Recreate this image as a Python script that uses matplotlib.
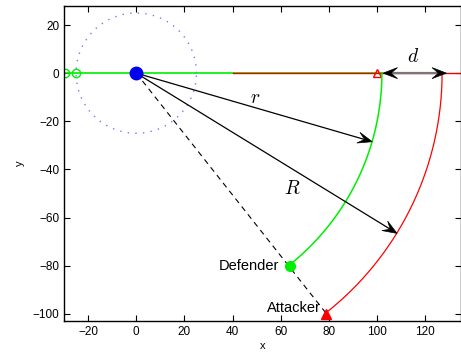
import numpy as np
import matplotlib.pyplot as plt
from matplotlib.patches import Polygon

plt.rcParams['font.family'] = ['Liberation Sans', 'DejaVu Sans']
plt.rcParams['mathtext.fontset'] = 'cm'

# positions of the two players
defender = [64, -80]
attacker = [79, -100]
# radii of the two arcs (reach of defender / attacker)
r_def = 102
R_att = 127
guard_radius = 25
# points on the arcs where the r and R arrows land
r_tip = [98, -28.5]
R_tip = [108.3, -66.6]
# d arrow end points along the x axis
d_ends = [102.5, 128.8]
# green / red path segments on the x axis
green_x = [-29.5, 102]
red_x = [40, 140]
green_marks = [-29.5, -25]
red_mark = 100


def arc(radius, p):
    a0 = np.arctan2(p[1], p[0])
    t = np.linspace(a0, 0, 200)
    return radius*np.cos(t), radius*np.sin(t)


def head(ax, tip, frm, L=6.0, W=2.3, notch=0.55):
    # concave arrow head, axes are equal scaled so data units work
    tip = np.array(tip, float)
    u = tip - np.array(frm, float)
    u = u/np.hypot(*u)
    n = np.array([-u[1], u[0]])
    back = tip - L*u
    pts = [tip, back + W*n, tip - notch*L*u, back - W*n]
    ax.add_patch(Polygon(pts, closed=True, fc='k', ec='k', lw=0.5, zorder=5))
    return tip - notch*L*u


def main():
    fig = plt.figure(figsize=(4.61, 3.53), dpi=100)
    ax = fig.add_axes([0.1388, 0.0907, 0.862, 0.893])

    # guard circle round the origin
    t = np.linspace(0, 2*np.pi, 300)
    ax.plot(guard_radius*np.cos(t), guard_radius*np.sin(t), color='#7777ff',
            linestyle=(0, (1, 4.5)), linewidth=1.0)

    ax.plot(green_x, [0, 0], color='#00ee00', linewidth=1.2)
    ax.plot(red_x, [0, 0], color='#ee0000', linewidth=1.0)
    ax.plot(green_marks, [0, 0], 'o', mfc='none', mec='#00ee00', ms=6)
    ax.plot([red_mark], [0], '^', mfc='none', mec='red', ms=6)

    # arcs
    gx, gy = arc(r_def, defender)
    ax.plot(gx, gy, color='#00ee00', linewidth=1.1)
    rx, ry = arc(R_att, attacker)
    ax.plot(rx, ry, color='red', linewidth=0.9)

    # dashed line to attacker
    ax.plot([0, attacker[0]], [0, attacker[1]], 'k', linestyle=(0, (5, 4)),
            linewidth=0.8)

    # r and R arrows
    for tip in (r_tip, R_tip):
        b = head(ax, tip, (0, 0))
        ax.plot([0, b[0]], [0, b[1]], 'k', linewidth=0.9)

    # d arrow
    b1 = head(ax, (d_ends[0], 0), (d_ends[1], 0))
    b2 = head(ax, (d_ends[1], 0), (d_ends[0], 0))
    ax.plot([b1[0], b2[0]], [0, 0], color='#777777', linewidth=1.6, zorder=4)

    ax.text(49.5, -10.5, r'$r$', fontsize=14, ha='center', va='center')
    ax.text(64.7, -48, r'$R$', fontsize=14, ha='center', va='center')
    ax.text(115, 6.8, r'$d$', fontsize=14, ha='center', va='center')

    # origin and players
    ax.plot([0], [0], 'o', color='#0000ee', ms=9)
    ax.plot(*defender, 'o', color='#00ee00', ms=7)
    ax.plot(*attacker, '^', color='red', ms=7)
    ax.text(defender[0] - 4.5, defender[1], 'Defender', fontsize=10.5,
            ha='right', va='center')
    ax.text(attacker[0] - 2.5, attacker[1] + 2.5, 'Attacker', fontsize=10.5,
            ha='right', va='center')

    ax.set_xlim(-30, 135)
    ax.set_ylim(-103, 28)
    ax.set_xticks(np.arange(-20, 121, 20))
    ax.set_yticks(np.arange(-100, 21, 20))
    ax.tick_params(direction='in', top=True, right=True, labelsize=8.5,
                   length=4, width=0.8)
    for s in ax.spines.values():
        s.set_linewidth(1.0)
    ax.set_xlabel('x', fontsize=8, labelpad=2)
    ax.set_ylabel('y', fontsize=8, labelpad=5)

    fig.savefig('out.png', dpi=100)


if __name__ == "__main__":
    main()
